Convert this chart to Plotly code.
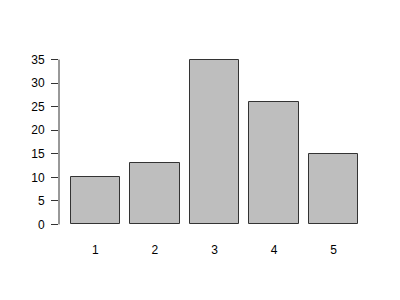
import plotly.graph_objects as go

categories = ["1", "2", "3", "4", "5"]
values = [10, 13, 35, 26, 15]
y_ticks = [0, 5, 10, 15, 20, 25, 30, 35]

x_pos = list(range(1, len(categories) + 1))

fig = go.Figure()
fig.add_trace(go.Bar(
    x=x_pos, y=values, width=1 / 1.2,
    marker=dict(color="#BEBEBE", line=dict(color="#333333", width=1)),
))

ymax = max(y_ticks)
fig.add_shape(type="line", xref="paper", yref="y", x0=0, x1=0, y0=0, y1=ymax,
              line=dict(color="#333333", width=1))

fig.update_layout(
    width=400, height=300,
    margin=dict(l=59, r=30, t=53, b=69),
    paper_bgcolor="white", plot_bgcolor="white",
    font=dict(family="Liberation Sans, Arial, sans-serif", size=12, color="black"),
    showlegend=False,
    bargap=0,
    xaxis=dict(
        range=[0.39, 5.61], tickmode="array", tickvals=x_pos, ticktext=categories,
        showgrid=False, zeroline=False, showline=False, ticks="",
        ticklabelstandoff=10,
    ),
    yaxis=dict(
        range=[-1.4, 36.4], tickmode="array", tickvals=y_ticks,
        ticktext=[str(v) for v in y_ticks],
        showgrid=False, zeroline=False, showline=False,
        ticks="outside", ticklen=7, tickcolor="#333333", tickwidth=1,
        ticklabelstandoff=4,
    ),
)

fig.write_html("out.html")
